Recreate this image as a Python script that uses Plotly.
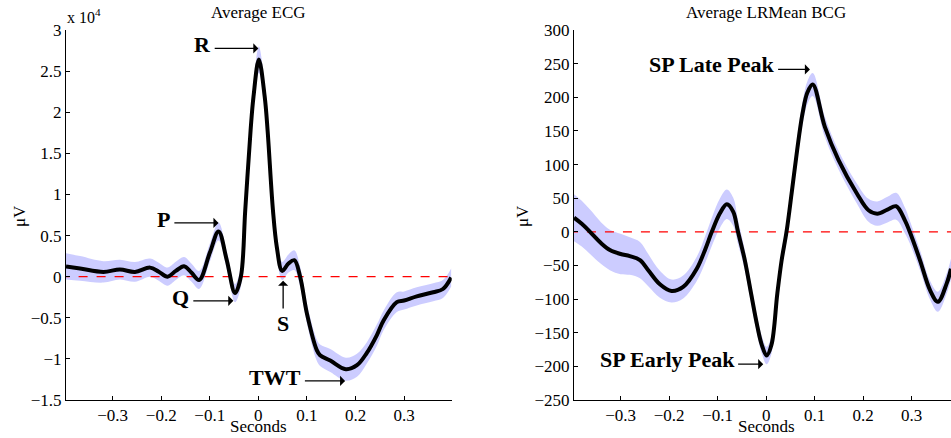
import plotly.graph_objects as go

# ---------------- data ----------------
# Average ECG (values in units of 10^4 uV)
t_ecg = [-0.396, -0.367, -0.319, -0.285, -0.254, -0.223, -0.205, -0.187, -0.17, -0.153,
         -0.138, -0.122, -0.1, -0.082, -0.065, -0.048, -0.036, -0.027, -0.016, -0.010,
         0.001, 0.013, 0.019, 0.030, 0.038, 0.049, 0.062, 0.074, 0.086, 0.1,
         0.12, 0.127, 0.148, 0.18, 0.203, 0.223, 0.244, 0.258, 0.285, 0.3,
         0.326, 0.36, 0.38, 0.397]
v_ecg = [0.125, 0.10, 0.058, 0.087, 0.058, 0.11, 0.06, 0.0, 0.07, 0.128,
         0.05, -0.04, 0.29, 0.55, 0.2, -0.2, 0.0, 0.81, 1.78, 2.19,
         2.64, 2.19, 1.78, 0.81, 0.36, 0.07, 0.16, 0.2, 0.0, -0.45,
         -0.89, -0.955, -1.02, -1.125, -1.077, -0.93, -0.71, -0.53, -0.31, -0.29,
         -0.24, -0.19, -0.15, -0.01]
sem_ecg = [0.16, 0.15, 0.13, 0.12, 0.12, 0.11, 0.11, 0.11, 0.11, 0.11,
           0.11, 0.11, 0.11, 0.11, 0.11, 0.11, 0.12, 0.13, 0.14, 0.15,
           0.16, 0.15, 0.14, 0.13, 0.12, 0.11, 0.11, 0.12, 0.12, 0.12,
           0.13, 0.13, 0.14, 0.14, 0.14, 0.13, 0.13, 0.12, 0.12, 0.11,
           0.11, 0.11, 0.11, 0.11]

# Average LRMean BCG (uV)
t_bcg = [-0.396, -0.38, -0.363, -0.34, -0.322, -0.3, -0.281, -0.26, -0.243, -0.219,
         -0.195, -0.171, -0.143, -0.125, -0.112, -0.095, -0.081, -0.068, -0.058, -0.044,
         -0.031, -0.018, -0.009, 0.001, 0.011, 0.023, 0.032, 0.042, 0.053, 0.064,
         0.075, 0.085, 0.096, 0.121, 0.149, 0.187, 0.211, 0.229, 0.25, 0.268,
         0.286, 0.296, 0.317, 0.338, 0.354, 0.372, 0.381]
v_bcg = [21, 12, 0, -17, -27, -33, -36, -42, -57, -78,
         -88, -82, -55, -25, 0, 28, 41, 30, 0, -42,
         -92, -141, -168, -184, -168, -92, -42, 0, 60, 122,
         176, 207, 219, 156, 107, 57, 32, 27, 33, 38,
         17, 0, -42, -87, -104, -77, -55]
sem_bcg = [35, 34, 33, 31, 30, 30, 28, 27, 24, 20,
           17, 17, 18, 20, 21, 22, 22, 21, 18, 15,
           14, 13, 13, 13, 13, 13, 14, 14, 15, 16,
           17, 17, 17, 15, 14, 15, 17, 18, 19, 20,
           19, 17, 15, 14, 15, 15, 15]

xtick_vals = [-0.3, -0.2, -0.1, 0, 0.1, 0.2, 0.3]
xtick_text = ["\u22120.3", "\u22120.2", "\u22120.1", "0", "0.1", "0.2", "0.3"]
ecg_ytick_vals = [-1.5, -1, -0.5, 0, 0.5, 1, 1.5, 2, 2.5, 3]
ecg_ytick_text = ["\u22121.5", "\u22121", "\u22120.5", "0", "0.5", "1", "1.5", "2", "2.5", "3"]
bcg_ytick_vals = [-250, -200, -150, -100, -50, 0, 50, 100, 150, 200, 250, 300]
bcg_ytick_text = [("\u2212" + str(-v)) if v < 0 else str(v) for v in bcg_ytick_vals]

# ---------------- style ----------------
W, H = 951, 438
SERIF = "Liberation Serif"
BAND = "rgb(204,204,255)"

fig = go.Figure()


def add_panel(t, v, sem, xa, ya):
    upper = [a + b for a, b in zip(v, sem)]
    lower = [a - b for a, b in zip(v, sem)]
    fig.add_trace(go.Scatter(x=t, y=upper, mode="lines", line=dict(width=0, color=BAND, shape="spline"),
                             xaxis=xa, yaxis=ya, showlegend=False, hoverinfo="skip"))
    fig.add_trace(go.Scatter(x=t, y=lower, mode="lines", line=dict(width=0, color=BAND, shape="spline"),
                             fill="tonexty", fillcolor=BAND,
                             xaxis=xa, yaxis=ya, showlegend=False, hoverinfo="skip"))
    fig.add_trace(go.Scatter(x=[-1, 1], y=[0, 0], mode="lines",
                             line=dict(color="red", width=1.2, dash="dash"),
                             xaxis=xa, yaxis=ya, showlegend=False, hoverinfo="skip"))
    fig.add_trace(go.Scatter(x=t, y=v, mode="lines", line=dict(color="black", width=4, shape="spline"),
                             xaxis=xa, yaxis=ya, showlegend=False))


add_panel(t_ecg, v_ecg, sem_ecg, "x", "y")
add_panel(t_bcg, v_bcg, sem_bcg, "x2", "y2")

ydom = [1 - 400 / H, 1 - 30 / H]
axis_common = dict(showgrid=False, zeroline=False, showline=True, linecolor="black", linewidth=1,
                   ticks="inside", ticklen=4, tickcolor="black", tickwidth=1, automargin=False,
                   tickfont=dict(family=SERIF, size=17, color="black"), mirror=False)

fig.update_layout(
    width=W, height=H, autosize=False,
    margin=dict(l=0, r=0, t=0, b=0, pad=0),
    paper_bgcolor="white", plot_bgcolor="white",
    xaxis=dict(domain=[66 / W, 451.7 / W], range=[-0.396, 0.398], anchor="y",
               tickmode="array", tickvals=xtick_vals, ticktext=xtick_text, **axis_common),
    yaxis=dict(domain=ydom, range=[-1.5, 3], anchor="x",
               tickmode="array", tickvals=ecg_ytick_vals, ticktext=ecg_ytick_text, **axis_common),
    xaxis2=dict(domain=[574 / W, 1.0], range=[-0.396, 0.381], anchor="y2",
                tickmode="array", tickvals=xtick_vals, ticktext=xtick_text, **axis_common),
    yaxis2=dict(domain=ydom, range=[-250, 300], anchor="x2",
                tickmode="array", tickvals=bcg_ytick_vals, ticktext=bcg_ytick_text, **axis_common),
)

txt = dict(family=SERIF, size=17, color="black")
bold = dict(family=SERIF, size=22, color="black")
ann = []
# titles
ann.append(dict(text="Average ECG", x=0, xref="x", y=1 - 13 / H, yref="paper", showarrow=False,
                xanchor="center", yanchor="middle", font=txt))
ann.append(dict(text="Average LRMean BCG", x=0, xref="x2", y=1 - 13 / H, yref="paper", showarrow=False,
                xanchor="center", yanchor="middle", font=txt))
# x labels
for xr in ("x", "x2"):
    ann.append(dict(text="Seconds", x=0, xref=xr, y=0, yref="paper", showarrow=False,
                    xanchor="center", yanchor="bottom", font=txt))
# y labels
for px in (19, 522):
    ann.append(dict(text="\u03bcV", x=px / W, xref="paper", y=1 - 216 / H, yref="paper", showarrow=False,
                    textangle=-90, xanchor="center", yanchor="middle", font=txt))
# exponent
ann.append(dict(text="x 10<sup>4</sup>", x=65 / W, xref="paper", y=1 - 28 / H, yref="paper", showarrow=False,
                xanchor="left", yanchor="bottom", font=dict(family=SERIF, size=16, color="black")))


def arrow(xr, yr, tail, tip):
    ann.append(dict(text="", x=tip[0], y=tip[1], ax=tail[0], ay=tail[1], xref=xr, yref=yr,
                    axref=xr, ayref=yr, showarrow=True, arrowhead=1, arrowsize=1.3,
                    arrowwidth=1.3, arrowcolor="black"))


def label(xr, yr, text, x, y, xanchor="right"):
    ann.append(dict(text="<b>" + text + "</b>", x=x, y=y, xref=xr, yref=yr, showarrow=False,
                    xanchor=xanchor, yanchor="middle", font=bold))


# ECG labels
arrow("x", "y", (-0.093, 2.776), (0.0, 2.776)); label("x", "y", "R", -0.094, 2.82)
arrow("x", "y", (-0.176, 0.654), (-0.082, 0.654)); label("x", "y", "P", -0.177, 0.70)
arrow("x", "y", (-0.137, -0.294), (-0.0515, -0.294)); label("x", "y", "Q", -0.138, -0.25)
arrow("x", "y", (0.051, -0.404), (0.051, -0.05)); label("x", "y", "S", 0.051, -0.57, xanchor="center")
arrow("x", "y", (0.0927, -1.268), (0.1786, -1.268)); label("x", "y", "TWT", 0.092, -1.225)
# BCG labels
arrow("x2", "y2", (0.0216, 241.4), (0.0903, 241.4)); label("x2", "y2", "SP Late Peak", 0.021, 248)
arrow("x2", "y2", (-0.0608, -196.7), (-0.006, -196.7)); label("x2", "y2", "SP Early Peak", -0.061, -190)

fig.update_layout(annotations=ann)
fig.write_html("out.html")
